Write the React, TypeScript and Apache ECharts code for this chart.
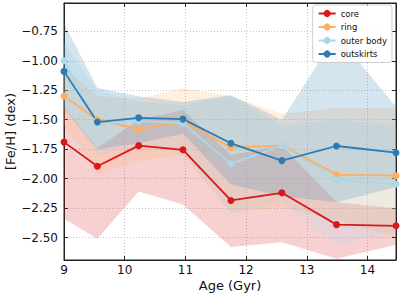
import { useEffect, useRef } from "react";
import * as echarts from "echarts";

// Age bins (Gyr)
const ages = [9.0, 9.55, 10.23, 10.96, 11.75, 12.59, 13.49, 14.47];

// Median [Fe/H] per region with lower / upper spread
const coreFeH = [-1.69, -1.895, -1.72, -1.755, -2.185, -2.12, -2.39, -2.4];
const coreLow = [-2.34, -2.51, -2.11, -2.22, -2.58, -2.54, -2.68, -2.56];
const coreHigh = [-1.39, -1.74, -1.5, -1.42, -1.8, -1.72, -2.2, -2.25];

const ringFeH = [-1.3, -1.5, -1.58, -1.52, -1.735, -1.72, -1.965, -1.975];
const ringLow = [-1.55, -1.97, -1.85, -1.8, -2.29, -2.24, -2.35, -2.5];
const ringHigh = [-1.05, -1.3, -1.32, -1.23, -1.3, -1.45, -1.4, -1.4];

const outerFeH = [-1.0, -1.535, -1.51, -1.53, -1.875, -1.72, -2.01, -2.045];
const outerLow = [-1.4, -1.8, -1.72, -1.78, -2.3, -2.2, -2.57, -2.45];
const outerHigh = [-0.85, -1.25, -1.35, -1.38, -1.3, -1.55, -1.5, -1.55];

const skirtFeH = [-1.09, -1.52, -1.484, -1.495, -1.7, -1.847, -1.723, -1.78];
const skirtLow = [-1.4, -1.75, -1.7, -1.62, -2.05, -2.15, -2.2, -2.07];
const skirtHigh = [-0.68, -1.23, -1.3, -1.35, -1.29, -1.5, -0.78, -1.39];

const xTicks = [9, 10, 11, 12, 13, 14];
const yTicks = [-2.5, -2.25, -2.0, -1.75, -1.5, -1.25, -1.0, -0.75];

const X_MIN = 9;
const X_MAX = 14.47;
const Y_MIN = -2.69;
const Y_MAX = -0.51;

const groups = [
  { name: "core", color: "#d7191c", mid: coreFeH, lo: coreLow, hi: coreHigh },
  { name: "ring", color: "#fdae61", mid: ringFeH, lo: ringLow, hi: ringHigh },
  { name: "outer body", color: "#abd9e9", mid: outerFeH, lo: outerLow, hi: outerHigh },
  { name: "outskirts", color: "#2c7bb6", mid: skirtFeH, lo: skirtLow, hi: skirtHigh },
];

const FONT = "DejaVu Sans";

const fmt = (v: number) => {
  const s = Math.abs(v).toFixed(2);
  return v < 0 ? "\u2212" + s : s;
};

function bandSeries(g: (typeof groups)[number]) {
  return {
    type: "custom",
    z: 1,
    clip: true,
    silent: true,
    data: ages.map((x, i) => [x, g.lo[i], g.hi[i]]),
    renderItem: (params: any, api: any) => {
      if (params.dataIndex !== 0) return null;
      const upper = ages.map((x, i) => api.coord([x, g.hi[i]]));
      const lower = ages.map((x, i) => api.coord([x, g.lo[i]])).reverse();
      return {
        type: "polygon",
        shape: { points: upper.concat(lower) },
        style: { fill: g.color, opacity: 0.2 },
      };
    },
  };
}

function lineSeries(g: (typeof groups)[number]) {
  return {
    type: "line",
    name: g.name,
    z: 3,
    data: ages.map((x, i) => [x, g.mid[i]]),
    symbol: "circle",
    symbolSize: 7,
    showSymbol: true,
    color: g.color,
    lineStyle: { width: 1.8, color: g.color },
    itemStyle: { color: g.color },
  };
}

const gridLine = { show: true, lineStyle: { color: "#b8b8b8", width: 0.8, type: [1, 2] } };

export default function App() {
  const ref = useRef<HTMLDivElement>(null);

  useEffect(() => {
    document.body.style.margin = "0";
    if (!ref.current) return;
    const chart = echarts.init(ref.current, undefined, { renderer: "svg" });
    chart.setOption({
      animation: false,
      backgroundColor: "#ffffff",
      textStyle: { fontFamily: FONT },
      grid: {
        left: 64,
        right: 4,
        top: 3,
        bottom: 41,
        outerBoundsMode: "none",
        containLabel: false,
        show: true,
        borderColor: "#222",
        borderWidth: 1,
        backgroundColor: "transparent",
      },
      legend: {
        right: 8,
        top: 5,
        orient: "vertical",
        data: groups.map((g) => g.name),
        itemWidth: 17,
        itemHeight: 9,
        itemGap: 4.5,
        padding: [4, 5, 4, 5],
        backgroundColor: "rgba(255,255,255,0.85)",
        borderColor: "#d0d0d0",
        borderWidth: 1,
        borderRadius: 3,
        textStyle: { fontFamily: FONT, fontSize: 8.5, color: "#111", width: 48, overflow: "none" },
      },
      xAxis: [
        {
          type: "value",
          min: X_MIN,
          max: X_MAX,
          name: "Age (Gyr)",
          nameLocation: "middle",
          nameGap: 19,
          nameMoveOverlap: false,
          nameTextStyle: { fontFamily: FONT, fontSize: 13, color: "#111" },
          axisLine: { show: true, onZero: false, lineStyle: { color: "#222", width: 1 } },
          axisTick: { show: true, inside: true, length: 4, customValues: xTicks, lineStyle: { color: "#222" } },
          axisLabel: {
            customValues: xTicks,
            fontFamily: FONT,
            fontSize: 12,
            color: "#111",
            margin: 4,
            formatter: (v: number) => String(v),
          },
          splitLine: gridLine,
        },
        {
          type: "value",
          position: "top",
          min: X_MIN,
          max: X_MAX,
          axisLine: { show: true, onZero: false, lineStyle: { color: "#222", width: 1 } },
          axisTick: { show: true, inside: true, length: 4, customValues: xTicks, lineStyle: { color: "#222" } },
          axisLabel: { show: false },
          splitLine: { show: false },
        },
      ],
      yAxis: [
        {
          type: "value",
          min: Y_MIN,
          max: Y_MAX,
          name: "[Fe/H] (dex)",
          nameLocation: "middle",
          nameGap: 47,
          nameMoveOverlap: false,
          nameTextStyle: { fontFamily: FONT, fontSize: 13, color: "#111" },
          axisLine: { show: true, onZero: false, lineStyle: { color: "#222", width: 1 } },
          axisTick: { show: true, inside: true, length: 4, customValues: yTicks, lineStyle: { color: "#222" } },
          axisLabel: {
            customValues: yTicks,
            fontFamily: FONT,
            fontSize: 12,
            color: "#111",
            margin: 6,
            formatter: (v: number) => fmt(v),
          },
          splitLine: gridLine,
        },
        {
          type: "value",
          position: "right",
          min: Y_MIN,
          max: Y_MAX,
          axisLine: { show: true, onZero: false, lineStyle: { color: "#222", width: 1 } },
          axisTick: { show: true, inside: true, length: 4, customValues: yTicks, lineStyle: { color: "#222" } },
          axisLabel: { show: false },
          splitLine: { show: false },
        },
      ],
      series: [...groups.map(bandSeries), ...groups.map(lineSeries)],
    });
    return () => chart.dispose();
  }, []);

  return <div ref={ref} style={{ width: 400, height: 301 }} />;
}
